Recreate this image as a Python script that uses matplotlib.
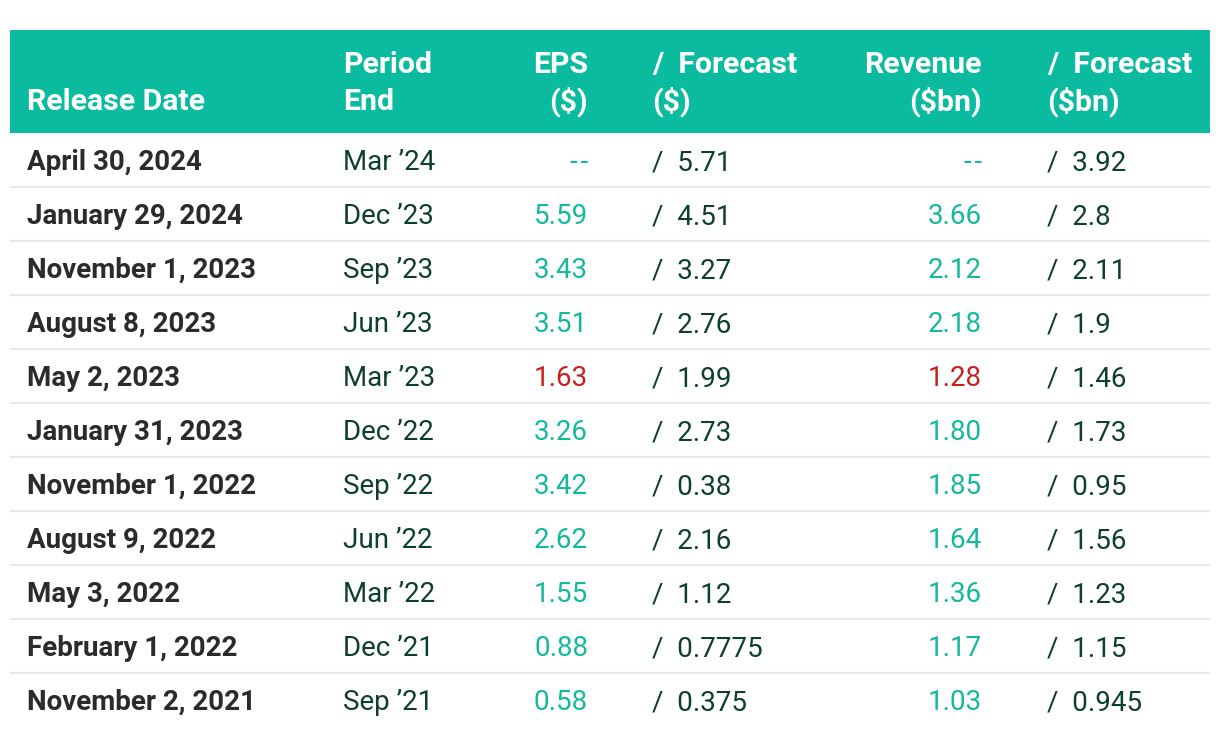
import matplotlib
matplotlib.use("Agg")
import matplotlib.pyplot as plt

plt.rcParams['font.family'] = ['Roboto', 'DejaVu Sans']

release_dates = ["April 30, 2024", "January 29, 2024", "November 1, 2023", "August 8, 2023",
                 "May 2, 2023", "January 31, 2023", "November 1, 2022", "August 9, 2022",
                 "May 3, 2022", "February 1, 2022", "November 2, 2021"]
period_end = ["Mar \u201924", "Dec \u201923", "Sep \u201923", "Jun \u201923", "Mar \u201923", "Dec \u201922",
              "Sep \u201922", "Jun \u201922", "Mar \u201922", "Dec \u201921", "Sep \u201921"]
eps = ["--", "5.59", "3.43", "3.51", "1.63", "3.26", "3.42", "2.62", "1.55", "0.88", "0.58"]
eps_forecast = ["5.71", "4.51", "3.27", "2.76", "1.99", "2.73", "0.38", "2.16", "1.12", "0.7775", "0.375"]
revenue = ["--", "3.66", "2.12", "2.18", "1.28", "1.80", "1.85", "1.64", "1.36", "1.17", "1.03"]
rev_forecast = ["3.92", "2.8", "2.11", "1.9", "1.46", "1.73", "0.95", "1.56", "1.23", "1.15", "0.945"]

headers = [("Release Date", "left", 27), ("Period\nEnd", "left", 343), ("EPS\n($)", "right", 588),
           ("/  Forecast\n($)", "left", 652), ("Revenue\n($bn)", "right", 982),
           ("/  Forecast\n($bn)", "left", 1047)]

TEAL = "#0bbba0"
GREEN = "#13b99b"
RED = "#cc1d1d"
DARKGREEN = "#0e3f2e"
DARK = "#2b2b2b"
FS = 20
HFS = 21.8

fig = plt.figure(figsize=(12.2, 7.36), dpi=100)
ax = fig.add_axes([0, 0, 1, 1])
ax.set_xlim(0, 1220)
ax.set_ylim(736, 0)
ax.axis("off")

ax.add_patch(plt.Rectangle((10, 30), 1200, 103, color=TEAL, lw=0))
for text, ha, x in headers:
    lines = text.split("\n")
    if len(lines) == 1:
        ax.text(x, 110, lines[0], ha=ha, va="baseline", color="white", fontsize=HFS, fontweight="bold")
    else:
        ax.text(x, 73, lines[0], ha=ha, va="baseline", color="white", fontsize=HFS, fontweight="bold")
        ax.text(x, 110, lines[1], ha=ha, va="baseline", color="white", fontsize=HFS, fontweight="bold")


def val_color(actual, forecast):
    if actual == "--":
        return GREEN
    return GREEN if float(actual) >= float(forecast) else RED


def shown(v):
    return "-\u200a-" if v == "--" else v


n = len(release_dates)
for i in range(n):
    yb = 170 + 54 * i
    ax.text(27, yb, release_dates[i], ha="left", va="baseline", color=DARK, fontsize=FS, fontweight="bold")
    ax.text(343, yb, period_end[i], ha="left", va="baseline", color=DARKGREEN, fontsize=FS)
    ax.text(588, yb, shown(eps[i]), ha="right", va="baseline", color=val_color(eps[i], eps_forecast[i]), fontsize=FS)
    ax.text(652, yb, "/  " + eps_forecast[i], ha="left", va="baseline", color=DARKGREEN, fontsize=FS)
    ax.text(982, yb, shown(revenue[i]), ha="right", va="baseline", color=val_color(revenue[i], rev_forecast[i]), fontsize=FS)
    ax.text(1047, yb, "/  " + rev_forecast[i], ha="left", va="baseline", color=DARKGREEN, fontsize=FS)
    if i < n - 1:
        ax.plot([10, 1210], [187 + 54 * i, 187 + 54 * i], color="#e9e9e9", lw=1.6, solid_capstyle="butt")

fig.savefig("out.png", dpi=100, facecolor="white")
